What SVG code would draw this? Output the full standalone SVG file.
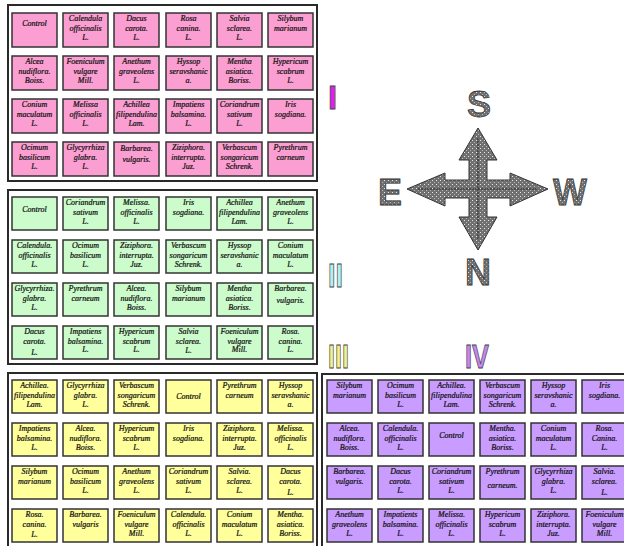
<svg xmlns="http://www.w3.org/2000/svg" width="624" height="546" viewBox="0 0 624 546">
  <style>
    .blk { fill: #ffffff; stroke: #2a2a2a; stroke-width: 2; }
    .c { stroke: #333333; stroke-width: 1.5; }
    .p { fill: #fb9fd2; }
    .g { fill: #ccfccc; }
    .y { fill: #ffff9c; }
    .v { fill: #c99cff; }
    .t { font-family: "Liberation Serif", "Times New Roman", serif; font-style: italic; font-size: 8px; fill: #111; stroke: #111; stroke-width: 0.22; text-anchor: middle; }
    .dir { font-family: "Liberation Sans", Arial, sans-serif; font-weight: bold; font-size: 36px; fill: url(#dots); stroke: #333; stroke-width: 0.8; text-anchor: middle; }
    .num { font-family: "Liberation Sans", Arial, sans-serif; font-weight: bold; font-size: 33px; stroke: #444; stroke-width: 0.8; }
  </style>
  <defs>
    <pattern id="dots" width="4" height="4" patternUnits="userSpaceOnUse">
      <rect width="4" height="4" fill="#707070"/>
      <rect x="0" y="0" width="1" height="1" fill="#e6e6e6"/>
      <rect x="2" y="2" width="1" height="1" fill="#b8b8b8"/>
    </pattern>
  </defs>

  <rect width="624" height="546" fill="#ffffff"/>

  <!-- plot frames -->
  <g id="frames">
    <rect class="blk" x="8" y="5" width="309" height="176"/>
    <rect class="blk" x="8" y="190" width="309" height="174"/>
    <rect class="blk" x="8" y="373" width="309" height="180"/>
    <rect class="blk" x="322" y="374" width="310" height="180"/>
  </g>

  <!-- block I -->
  <g id="blockI">
    <g id="I-1-1"><rect class="c p" x="12" y="13" width="45" height="34"/><text class="t"><tspan x="34.5" y="26">Control</tspan></text></g>
    <g id="I-1-2"><rect class="c p" x="63" y="13" width="45" height="34"/><text class="t"><tspan x="85.5" y="21">Calendula</tspan><tspan x="85.5" y="30.5">officinalis</tspan><tspan x="85.5" y="40">L.</tspan></text></g>
    <g id="I-1-3"><rect class="c p" x="114" y="13" width="45" height="34"/><text class="t"><tspan x="136.5" y="21">Dacus</tspan><tspan x="136.5" y="30.5">carota.</tspan><tspan x="136.5" y="40">L.</tspan></text></g>
    <g id="I-1-4"><rect class="c p" x="166" y="13" width="45" height="34"/><text class="t"><tspan x="188.5" y="21">Rosa</tspan><tspan x="188.5" y="30.5">canina.</tspan><tspan x="188.5" y="40">L.</tspan></text></g>
    <g id="I-1-5"><rect class="c p" x="217" y="13" width="45" height="34"/><text class="t"><tspan x="239.5" y="21">Salvia</tspan><tspan x="239.5" y="30.5">sclarea.</tspan><tspan x="239.5" y="40">L.</tspan></text></g>
    <g id="I-1-6"><rect class="c p" x="268" y="13" width="45" height="34"/><text class="t"><tspan x="290.5" y="21">Silybum</tspan><tspan x="290.5" y="30.5">marianum</tspan></text></g>

    <g id="I-2-1"><rect class="c p" x="12" y="56" width="45" height="34"/><text class="t"><tspan x="34.5" y="64">Alcea</tspan><tspan x="34.5" y="73.5">nudiflora.</tspan><tspan x="34.5" y="83">Boiss.</tspan></text></g>
    <g id="I-2-2"><rect class="c p" x="63" y="56" width="45" height="34"/><text class="t"><tspan x="85.5" y="64">Foeniculum</tspan><tspan x="85.5" y="73.5">vulgare</tspan><tspan x="85.5" y="83">Mill.</tspan></text></g>
    <g id="I-2-3"><rect class="c p" x="114" y="56" width="45" height="34"/><text class="t"><tspan x="136.5" y="64">Anethum</tspan><tspan x="136.5" y="73.5">graveolens</tspan><tspan x="136.5" y="83">L.</tspan></text></g>
    <g id="I-2-4"><rect class="c p" x="166" y="56" width="45" height="34"/><text class="t"><tspan x="188.5" y="64">Hyssop</tspan><tspan x="188.5" y="73.5">seravshanic</tspan><tspan x="188.5" y="83">a.</tspan></text></g>
    <g id="I-2-5"><rect class="c p" x="217" y="56" width="45" height="34"/><text class="t"><tspan x="239.5" y="64">Mentha</tspan><tspan x="239.5" y="73.5">asiatica.</tspan><tspan x="239.5" y="83">Boriss.</tspan></text></g>
    <g id="I-2-6"><rect class="c p" x="268" y="56" width="45" height="34"/><text class="t"><tspan x="290.5" y="64">Hypericum</tspan><tspan x="290.5" y="73.5">scabrum</tspan><tspan x="290.5" y="83">L.</tspan></text></g>

    <g id="I-3-1"><rect class="c p" x="12" y="99" width="45" height="34"/><text class="t"><tspan x="34.5" y="107">Conium</tspan><tspan x="34.5" y="116.5">maculatum</tspan><tspan x="34.5" y="126">L.</tspan></text></g>
    <g id="I-3-2"><rect class="c p" x="63" y="99" width="45" height="34"/><text class="t"><tspan x="85.5" y="107">Melissa</tspan><tspan x="85.5" y="116.5">officinalis</tspan><tspan x="85.5" y="126">L.</tspan></text></g>
    <g id="I-3-3"><rect class="c p" x="114" y="99" width="45" height="34"/><text class="t"><tspan x="136.5" y="107">Achillea</tspan><tspan x="136.5" y="116.5">filipendulina</tspan><tspan x="136.5" y="126">Lam.</tspan></text></g>
    <g id="I-3-4"><rect class="c p" x="166" y="99" width="45" height="34"/><text class="t"><tspan x="188.5" y="107">Impatiens</tspan><tspan x="188.5" y="116.5">balsamina.</tspan><tspan x="188.5" y="126">L.</tspan></text></g>
    <g id="I-3-5"><rect class="c p" x="217" y="99" width="45" height="34"/><text class="t"><tspan x="239.5" y="107">Coriandrum</tspan><tspan x="239.5" y="116.5">sativum</tspan><tspan x="239.5" y="126">L.</tspan></text></g>
    <g id="I-3-6"><rect class="c p" x="268" y="99" width="45" height="34"/><text class="t"><tspan x="290.5" y="107">Iris</tspan><tspan x="290.5" y="116.5">sogdiana.</tspan></text></g>

    <g id="I-4-1"><rect class="c p" x="12" y="142" width="45" height="34"/><text class="t"><tspan x="34.5" y="150">Ocimum</tspan><tspan x="34.5" y="159.5">basilicum</tspan><tspan x="34.5" y="169">L.</tspan></text></g>
    <g id="I-4-2"><rect class="c p" x="63" y="142" width="45" height="34"/><text class="t"><tspan x="85.5" y="150">Glycyrrhiza</tspan><tspan x="85.5" y="159.5">glabra.</tspan><tspan x="85.5" y="169">L.</tspan></text></g>
    <g id="I-4-3"><rect class="c p" x="114" y="142" width="45" height="34"/><text class="t"><tspan x="136.5" y="151">Barbarea.</tspan><tspan x="136.5" y="162">vulgaris.</tspan></text></g>
    <g id="I-4-4"><rect class="c p" x="166" y="142" width="45" height="34"/><text class="t"><tspan x="188.5" y="150">Ziziphora.</tspan><tspan x="188.5" y="159.5">interrupta.</tspan><tspan x="188.5" y="169">Juz.</tspan></text></g>
    <g id="I-4-5"><rect class="c p" x="217" y="142" width="45" height="34"/><text class="t"><tspan x="239.5" y="150">Verbascum</tspan><tspan x="239.5" y="159.5">songaricum</tspan><tspan x="239.5" y="169">Schrenk.</tspan></text></g>
    <g id="I-4-6"><rect class="c p" x="268" y="142" width="45" height="34"/><text class="t"><tspan x="290.5" y="150">Pyrethrum</tspan><tspan x="290.5" y="159.5">carneum</tspan></text></g>
  </g>

  <!-- block II -->
  <g id="blockII">
    <g id="II-1-1"><rect class="c g" x="12" y="197" width="45" height="33"/><text class="t"><tspan x="34.5" y="212">Control</tspan></text></g>
    <g id="II-1-2"><rect class="c g" x="63" y="197" width="45" height="33"/><text class="t"><tspan x="85.5" y="205">Coriandrum</tspan><tspan x="85.5" y="214.5">sativum</tspan><tspan x="85.5" y="224">L.</tspan></text></g>
    <g id="II-1-3"><rect class="c g" x="114" y="197" width="45" height="33"/><text class="t"><tspan x="136.5" y="205">Melissa.</tspan><tspan x="136.5" y="214.5">officinalis</tspan><tspan x="136.5" y="224">L.</tspan></text></g>
    <g id="II-1-4"><rect class="c g" x="166" y="197" width="45" height="33"/><text class="t"><tspan x="188.5" y="205">Iris</tspan><tspan x="188.5" y="214.5">sogdiana.</tspan></text></g>
    <g id="II-1-5"><rect class="c g" x="217" y="197" width="45" height="33"/><text class="t"><tspan x="239.5" y="205">Achillea</tspan><tspan x="239.5" y="214.5">filipendulina</tspan><tspan x="239.5" y="224">Lam.</tspan></text></g>
    <g id="II-1-6"><rect class="c g" x="268" y="197" width="45" height="33"/><text class="t"><tspan x="290.5" y="205">Anethum</tspan><tspan x="290.5" y="214.5">graveolens</tspan><tspan x="290.5" y="224">L.</tspan></text></g>

    <g id="II-2-1"><rect class="c g" x="12" y="240" width="45" height="33"/><text class="t"><tspan x="34.5" y="248">Calendula.</tspan><tspan x="34.5" y="257.5">officinalis</tspan><tspan x="34.5" y="267">L.</tspan></text></g>
    <g id="II-2-2"><rect class="c g" x="63" y="240" width="45" height="33"/><text class="t"><tspan x="85.5" y="248">Ocimum</tspan><tspan x="85.5" y="257.5">basilicum</tspan><tspan x="85.5" y="267">L.</tspan></text></g>
    <g id="II-2-3"><rect class="c g" x="114" y="240" width="45" height="33"/><text class="t"><tspan x="136.5" y="248">Ziziphora.</tspan><tspan x="136.5" y="257.5">interrupta.</tspan><tspan x="136.5" y="267">Juz.</tspan></text></g>
    <g id="II-2-4"><rect class="c g" x="166" y="240" width="45" height="33"/><text class="t"><tspan x="188.5" y="248">Verbascum</tspan><tspan x="188.5" y="257.5">songaricum</tspan><tspan x="188.5" y="267">Schrenk.</tspan></text></g>
    <g id="II-2-5"><rect class="c g" x="217" y="240" width="45" height="33"/><text class="t"><tspan x="239.5" y="248">Hyssop</tspan><tspan x="239.5" y="257.5">seravshanic</tspan><tspan x="239.5" y="267">a.</tspan></text></g>
    <g id="II-2-6"><rect class="c g" x="268" y="240" width="45" height="33"/><text class="t"><tspan x="290.5" y="248">Conium</tspan><tspan x="290.5" y="257.5">maculatum</tspan><tspan x="290.5" y="267">L.</tspan></text></g>

    <g id="II-3-1"><rect class="c g" x="12" y="283" width="45" height="33"/><text class="t"><tspan x="34.5" y="291">Glycyrrhiza.</tspan><tspan x="34.5" y="300.5">glabra.</tspan><tspan x="34.5" y="310">L.</tspan></text></g>
    <g id="II-3-2"><rect class="c g" x="63" y="283" width="45" height="33"/><text class="t"><tspan x="85.5" y="291">Pyrethrum</tspan><tspan x="85.5" y="300.5">carneum</tspan></text></g>
    <g id="II-3-3"><rect class="c g" x="114" y="283" width="45" height="33"/><text class="t"><tspan x="136.5" y="291">Alcea.</tspan><tspan x="136.5" y="300.5">nudiflora.</tspan><tspan x="136.5" y="310">Boiss.</tspan></text></g>
    <g id="II-3-4"><rect class="c g" x="166" y="283" width="45" height="33"/><text class="t"><tspan x="188.5" y="291">Silybum</tspan><tspan x="188.5" y="300.5">marianum</tspan></text></g>
    <g id="II-3-5"><rect class="c g" x="217" y="283" width="45" height="33"/><text class="t"><tspan x="239.5" y="291">Mentha</tspan><tspan x="239.5" y="300.5">asiatica.</tspan><tspan x="239.5" y="310">Boriss.</tspan></text></g>
    <g id="II-3-6"><rect class="c g" x="268" y="283" width="45" height="33"/><text class="t"><tspan x="290.5" y="291">Barbarea.</tspan><tspan x="290.5" y="303">vulgaris.</tspan></text></g>

    <g id="II-4-1"><rect class="c g" x="12" y="326" width="45" height="33"/><text class="t"><tspan x="34.5" y="334">Dacus</tspan><tspan x="34.5" y="343.5">carota.</tspan><tspan x="34.5" y="355">L.</tspan></text></g>
    <g id="II-4-2"><rect class="c g" x="63" y="326" width="45" height="33"/><text class="t"><tspan x="85.5" y="334">Impatiens</tspan><tspan x="85.5" y="343.5">balsamina.</tspan><tspan x="85.5" y="352">L.</tspan></text></g>
    <g id="II-4-3"><rect class="c g" x="114" y="326" width="45" height="33"/><text class="t"><tspan x="136.5" y="334">Hypericum</tspan><tspan x="136.5" y="343.5">scabrum</tspan><tspan x="136.5" y="352">L.</tspan></text></g>
    <g id="II-4-4"><rect class="c g" x="166" y="326" width="45" height="33"/><text class="t"><tspan x="188.5" y="334">Salvia</tspan><tspan x="188.5" y="343.5">sclarea.</tspan><tspan x="188.5" y="353">L.</tspan></text></g>
    <g id="II-4-5"><rect class="c g" x="217" y="326" width="45" height="33"/><text class="t"><tspan x="239.5" y="334">Foeniculum</tspan><tspan x="239.5" y="343.5">vulgare</tspan><tspan x="239.5" y="352">Mill.</tspan></text></g>
    <g id="II-4-6"><rect class="c g" x="268" y="326" width="45" height="33"/><text class="t"><tspan x="290.5" y="334">Rosa.</tspan><tspan x="290.5" y="343.5">canina.</tspan><tspan x="290.5" y="352">L.</tspan></text></g>
  </g>

  <!-- block III -->
  <g id="blockIII">
    <g id="III-1-1"><rect class="c y" x="12" y="380" width="45" height="33"/><text class="t"><tspan x="34.5" y="388">Achillea.</tspan><tspan x="34.5" y="397.5">filipendulina</tspan><tspan x="34.5" y="407">Lam.</tspan></text></g>
    <g id="III-1-2"><rect class="c y" x="63" y="380" width="45" height="33"/><text class="t"><tspan x="85.5" y="388">Glycyrrhiza</tspan><tspan x="85.5" y="397.5">glabra.</tspan><tspan x="85.5" y="407">L.</tspan></text></g>
    <g id="III-1-3"><rect class="c y" x="114" y="380" width="45" height="33"/><text class="t"><tspan x="136.5" y="388">Verbascum</tspan><tspan x="136.5" y="397.5">songaricum</tspan><tspan x="136.5" y="407">Schrenk.</tspan></text></g>
    <g id="III-1-4"><rect class="c y" x="166" y="380" width="45" height="33"/><text class="t"><tspan x="188.5" y="399">Control</tspan></text></g>
    <g id="III-1-5"><rect class="c y" x="217" y="380" width="45" height="33"/><text class="t"><tspan x="239.5" y="388">Pyrethrum</tspan><tspan x="239.5" y="397.5">carneum</tspan></text></g>
    <g id="III-1-6"><rect class="c y" x="268" y="380" width="45" height="33"/><text class="t"><tspan x="290.5" y="388">Hyssop</tspan><tspan x="290.5" y="397.5">seravshanic</tspan><tspan x="290.5" y="407">a.</tspan></text></g>

    <g id="III-2-1"><rect class="c y" x="12" y="423" width="45" height="33"/><text class="t"><tspan x="34.5" y="431">Impatiens</tspan><tspan x="34.5" y="440.5">balsamina.</tspan><tspan x="34.5" y="450">L.</tspan></text></g>
    <g id="III-2-2"><rect class="c y" x="63" y="423" width="45" height="33"/><text class="t"><tspan x="85.5" y="431">Alcea.</tspan><tspan x="85.5" y="440.5">nudiflora.</tspan><tspan x="85.5" y="450">Boiss.</tspan></text></g>
    <g id="III-2-3"><rect class="c y" x="114" y="423" width="45" height="33"/><text class="t"><tspan x="136.5" y="431">Hypericum</tspan><tspan x="136.5" y="440.5">scabrum</tspan><tspan x="136.5" y="450">L.</tspan></text></g>
    <g id="III-2-4"><rect class="c y" x="166" y="423" width="45" height="33"/><text class="t"><tspan x="188.5" y="431">Iris</tspan><tspan x="188.5" y="440.5">sogdiana.</tspan></text></g>
    <g id="III-2-5"><rect class="c y" x="217" y="423" width="45" height="33"/><text class="t"><tspan x="239.5" y="431">Ziziphora.</tspan><tspan x="239.5" y="440.5">interrupta.</tspan><tspan x="239.5" y="450">Juz.</tspan></text></g>
    <g id="III-2-6"><rect class="c y" x="268" y="423" width="45" height="33"/><text class="t"><tspan x="290.5" y="431">Melissa.</tspan><tspan x="290.5" y="440.5">officinalis</tspan><tspan x="290.5" y="450">L.</tspan></text></g>

    <g id="III-3-1"><rect class="c y" x="12" y="466" width="45" height="33"/><text class="t"><tspan x="34.5" y="474">Silybum</tspan><tspan x="34.5" y="483.5">marianum</tspan></text></g>
    <g id="III-3-2"><rect class="c y" x="63" y="466" width="45" height="33"/><text class="t"><tspan x="85.5" y="474">Ocimum</tspan><tspan x="85.5" y="483.5">basilicum</tspan><tspan x="85.5" y="493">L.</tspan></text></g>
    <g id="III-3-3"><rect class="c y" x="114" y="466" width="45" height="33"/><text class="t"><tspan x="136.5" y="474">Anethum</tspan><tspan x="136.5" y="483.5">graveolens</tspan><tspan x="136.5" y="493">L.</tspan></text></g>
    <g id="III-3-4"><rect class="c y" x="166" y="466" width="45" height="33"/><text class="t"><tspan x="188.5" y="474">Coriandrum</tspan><tspan x="188.5" y="483.5">sativum</tspan><tspan x="188.5" y="493">L.</tspan></text></g>
    <g id="III-3-5"><rect class="c y" x="217" y="466" width="45" height="33"/><text class="t"><tspan x="239.5" y="474">Salvia.</tspan><tspan x="239.5" y="483.5">sclarea.</tspan><tspan x="239.5" y="493">L.</tspan></text></g>
    <g id="III-3-6"><rect class="c y" x="268" y="466" width="45" height="33"/><text class="t"><tspan x="290.5" y="474">Dacus</tspan><tspan x="290.5" y="483.5">carota.</tspan><tspan x="290.5" y="495">L.</tspan></text></g>

    <g id="III-4-1"><rect class="c y" x="12" y="509" width="45" height="33"/><text class="t"><tspan x="34.5" y="517">Rosa.</tspan><tspan x="34.5" y="526.5">canina.</tspan><tspan x="34.5" y="537">L.</tspan></text></g>
    <g id="III-4-2"><rect class="c y" x="63" y="509" width="45" height="33"/><text class="t"><tspan x="85.5" y="517">Barbarea.</tspan><tspan x="85.5" y="526.5">vulgaris</tspan></text></g>
    <g id="III-4-3"><rect class="c y" x="114" y="509" width="45" height="33"/><text class="t"><tspan x="136.5" y="517">Foeniculum</tspan><tspan x="136.5" y="526.5">vulgare</tspan><tspan x="136.5" y="536">Mill.</tspan></text></g>
    <g id="III-4-4"><rect class="c y" x="166" y="509" width="45" height="33"/><text class="t"><tspan x="188.5" y="517">Calendula.</tspan><tspan x="188.5" y="526.5">officinalis</tspan><tspan x="188.5" y="536">L.</tspan></text></g>
    <g id="III-4-5"><rect class="c y" x="217" y="509" width="45" height="33"/><text class="t"><tspan x="239.5" y="517">Conium</tspan><tspan x="239.5" y="526.5">maculatum</tspan><tspan x="239.5" y="536">L.</tspan></text></g>
    <g id="III-4-6"><rect class="c y" x="268" y="509" width="45" height="33"/><text class="t"><tspan x="290.5" y="517">Mentha.</tspan><tspan x="290.5" y="526.5">asiatica.</tspan><tspan x="290.5" y="536">Boriss.</tspan></text></g>
  </g>

  <!-- block IV -->
  <g id="blockIV">
    <g id="IV-1-1"><rect class="c v" x="327" y="380" width="45" height="33"/><text class="t"><tspan x="349.5" y="388">Silybum</tspan><tspan x="349.5" y="397.5">marianum</tspan></text></g>
    <g id="IV-1-2"><rect class="c v" x="378" y="380" width="45" height="33"/><text class="t"><tspan x="400.5" y="388">Ocimum</tspan><tspan x="400.5" y="397.5">basilicum</tspan><tspan x="400.5" y="407">L.</tspan></text></g>
    <g id="IV-1-3"><rect class="c v" x="429" y="380" width="45" height="33"/><text class="t"><tspan x="451.5" y="388">Achillea.</tspan><tspan x="451.5" y="397.5">filipendulina</tspan><tspan x="451.5" y="407">Lam.</tspan></text></g>
    <g id="IV-1-4"><rect class="c v" x="480" y="380" width="45" height="33"/><text class="t"><tspan x="502.5" y="388">Verbascum</tspan><tspan x="502.5" y="397.5">songaricum</tspan><tspan x="502.5" y="407">Schrenk.</tspan></text></g>
    <g id="IV-1-5"><rect class="c v" x="531" y="380" width="45" height="33"/><text class="t"><tspan x="553.5" y="388">Hyssop</tspan><tspan x="553.5" y="397.5">seravshanic</tspan><tspan x="553.5" y="407">a.</tspan></text></g>
    <g id="IV-1-6"><rect class="c v" x="582" y="380" width="45" height="33"/><text class="t"><tspan x="604.5" y="388">Iris</tspan><tspan x="604.5" y="397.5">sogdiana.</tspan></text></g>

    <g id="IV-2-1"><rect class="c v" x="327" y="423" width="45" height="33"/><text class="t"><tspan x="349.5" y="431">Alcea.</tspan><tspan x="349.5" y="440.5">nudiflora.</tspan><tspan x="349.5" y="450">Boiss.</tspan></text></g>
    <g id="IV-2-2"><rect class="c v" x="378" y="423" width="45" height="33"/><text class="t"><tspan x="400.5" y="431">Calendula.</tspan><tspan x="400.5" y="440.5">officinalis</tspan><tspan x="400.5" y="450">L.</tspan></text></g>
    <g id="IV-2-3"><rect class="c v" x="429" y="423" width="45" height="33"/><text class="t"><tspan x="451.5" y="438">Control</tspan></text></g>
    <g id="IV-2-4"><rect class="c v" x="480" y="423" width="45" height="33"/><text class="t"><tspan x="502.5" y="431">Mentha.</tspan><tspan x="502.5" y="440.5">asiatica.</tspan><tspan x="502.5" y="450">Boriss.</tspan></text></g>
    <g id="IV-2-5"><rect class="c v" x="531" y="423" width="45" height="33"/><text class="t"><tspan x="553.5" y="431">Conium</tspan><tspan x="553.5" y="440.5">maculatum</tspan><tspan x="553.5" y="450">L.</tspan></text></g>
    <g id="IV-2-6"><rect class="c v" x="582" y="423" width="45" height="33"/><text class="t"><tspan x="604.5" y="431">Rosa.</tspan><tspan x="604.5" y="440.5">Canina.</tspan><tspan x="604.5" y="450">L.</tspan></text></g>

    <g id="IV-3-1"><rect class="c v" x="327" y="466" width="45" height="33"/><text class="t"><tspan x="349.5" y="474">Barbarea.</tspan><tspan x="349.5" y="483.5">vulgaris.</tspan></text></g>
    <g id="IV-3-2"><rect class="c v" x="378" y="466" width="45" height="33"/><text class="t"><tspan x="400.5" y="474">Dacus</tspan><tspan x="400.5" y="483.5">carota.</tspan><tspan x="400.5" y="493">L.</tspan></text></g>
    <g id="IV-3-3"><rect class="c v" x="429" y="466" width="45" height="33"/><text class="t"><tspan x="451.5" y="474">Coriandrum</tspan><tspan x="451.5" y="483.5">sativum</tspan><tspan x="451.5" y="493">L.</tspan></text></g>
    <g id="IV-3-4"><rect class="c v" x="480" y="466" width="45" height="33"/><text class="t"><tspan x="502.5" y="474">Pyrethrum</tspan><tspan x="502.5" y="488">carneum.</tspan></text></g>
    <g id="IV-3-5"><rect class="c v" x="531" y="466" width="45" height="33"/><text class="t"><tspan x="553.5" y="474">Glycyrrhiza</tspan><tspan x="553.5" y="483.5">glabra.</tspan><tspan x="553.5" y="493">L.</tspan></text></g>
    <g id="IV-3-6"><rect class="c v" x="582" y="466" width="45" height="33"/><text class="t"><tspan x="604.5" y="474">Salvia.</tspan><tspan x="604.5" y="483.5">sclarea.</tspan><tspan x="604.5" y="495">L.</tspan></text></g>

    <g id="IV-4-1"><rect class="c v" x="327" y="509" width="45" height="33"/><text class="t"><tspan x="349.5" y="517">Anethum</tspan><tspan x="349.5" y="526.5">graveolens</tspan><tspan x="349.5" y="536">L.</tspan></text></g>
    <g id="IV-4-2"><rect class="c v" x="378" y="509" width="45" height="33"/><text class="t"><tspan x="400.5" y="517">Impatients</tspan><tspan x="400.5" y="526.5">balsamina.</tspan><tspan x="400.5" y="536">L.</tspan></text></g>
    <g id="IV-4-3"><rect class="c v" x="429" y="509" width="45" height="33"/><text class="t"><tspan x="451.5" y="517">Melissa.</tspan><tspan x="451.5" y="526.5">officinalis</tspan><tspan x="451.5" y="536">L.</tspan></text></g>
    <g id="IV-4-4"><rect class="c v" x="480" y="509" width="45" height="33"/><text class="t"><tspan x="502.5" y="517">Hypericum</tspan><tspan x="502.5" y="526.5">scabrum</tspan><tspan x="502.5" y="536">L.</tspan></text></g>
    <g id="IV-4-5"><rect class="c v" x="531" y="509" width="45" height="33"/><text class="t"><tspan x="553.5" y="517">Ziziphora.</tspan><tspan x="553.5" y="526.5">interrupta.</tspan><tspan x="553.5" y="536">Juz.</tspan></text></g>
    <g id="IV-4-6"><rect class="c v" x="582" y="509" width="45" height="33"/><text class="t"><tspan x="604.5" y="517">Foeniculum</tspan><tspan x="604.5" y="526.5">vulgare</tspan><tspan x="604.5" y="536">Mill.</tspan></text></g>
  </g>

  <!-- block numerals -->
  <g id="numerals">
    <text class="num" x="328" y="109" fill="#e81ee8">I</text>
    <text class="num" x="328" y="287" fill="#b4f0f0" textLength="15" lengthAdjust="spacingAndGlyphs">II</text>
    <text class="num" x="328" y="368" fill="#f2f08a" textLength="21" lengthAdjust="spacingAndGlyphs">III</text>
    <text class="num" x="465" y="368" fill="#c488f4" textLength="24" lengthAdjust="spacingAndGlyphs">IV</text>
  </g>

  <!-- compass rose -->
  <g id="compass">
    <polygon points="478,128 497,160 487,160 487,180 510,180 510,173 548,189 510,206 510,198 487,198 487,217 497,217 478,250 459,217 469,217 469,198 445,198 445,206 407,189 445,173 445,180 469,180 469,160 459,160" fill="url(#dots)" stroke="#333" stroke-width="1"/>
    <line x1="478" y1="138" x2="478" y2="240" stroke="#222" stroke-width="1" stroke-dasharray="2 1"/>
    <line x1="418" y1="189" x2="538" y2="189" stroke="#222" stroke-width="1" stroke-dasharray="2 1"/>
    <text class="dir" x="479" y="117">S</text>
    <text class="dir" x="390" y="205">E</text>
    <text class="dir" x="570" y="205">W</text>
    <text class="dir" x="478" y="285">N</text>
  </g>
</svg>
